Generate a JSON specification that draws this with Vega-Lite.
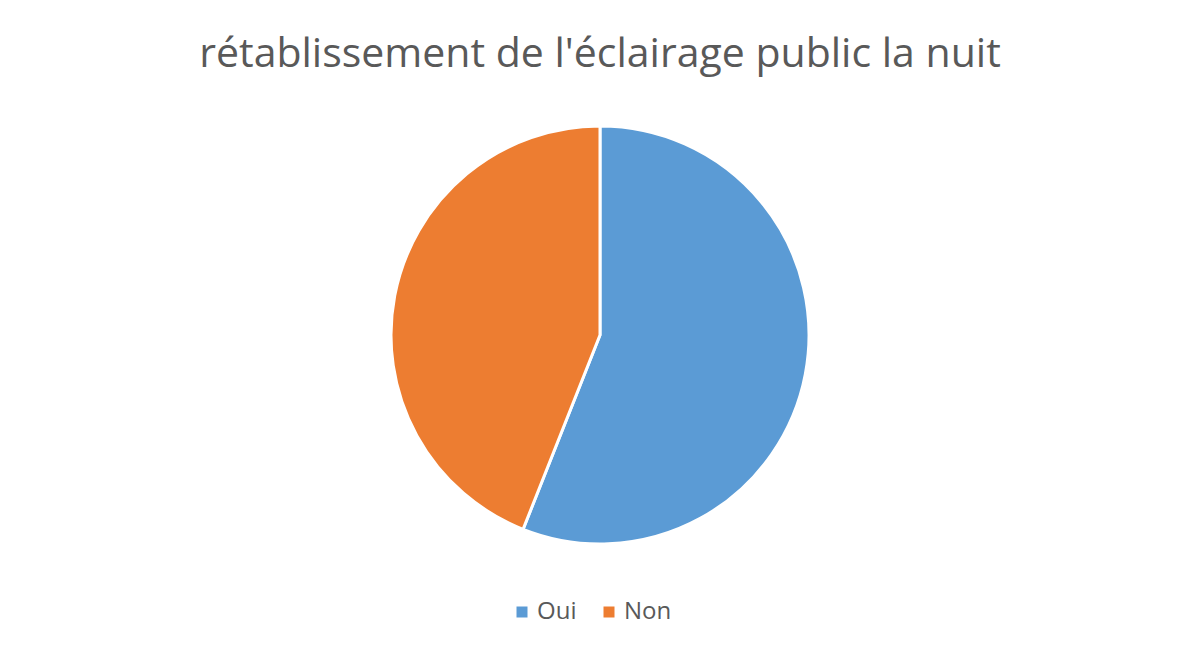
{
  "$schema": "https://vega.github.io/schema/vega-lite/v6.json",
  "autosize": {"type": "fit", "contains": "padding"},
  "width": 1200,
  "height": 661,
  "padding": {"left": 0, "right": 0, "top": 14, "bottom": 5},
  "background": "white",
  "title": {
    "text": "rétablissement de l'éclairage public la nuit",
    "font": "Open Sans",
    "fontSize": 41,
    "fontWeight": "normal",
    "color": "#595959",
    "anchor": "middle",
    "offset": -62
  },
  "data": {
    "values": [
      {"label": "Oui", "value": 56},
      {"label": "Non", "value": 44}
    ]
  },
  "mark": {"type": "arc", "radius": 209, "stroke": "white", "strokeWidth": 3},
  "encoding": {
    "theta": {"field": "value", "type": "quantitative", "stack": true},
    "order": {"field": "label", "sort": "descending"},
    "color": {
      "field": "label",
      "type": "nominal",
      "scale": {"domain": ["Oui", "Non"], "range": ["#5B9BD5", "#ED7D31"]},
      "legend": {
        "title": null,
        "orient": "none",
        "legendX": 510,
        "legendY": 586,
        "direction": "horizontal",
        "symbolType": "square",
        "symbolSize": 121,
        "symbolStrokeWidth": 0,
        "labelFont": "Open Sans",
        "labelFontSize": 24,
        "labelColor": "#595959",
        "labelOffset": 3,
        "columnPadding": 20
      }
    }
  },
  "config": {"view": {"stroke": null}}
}
